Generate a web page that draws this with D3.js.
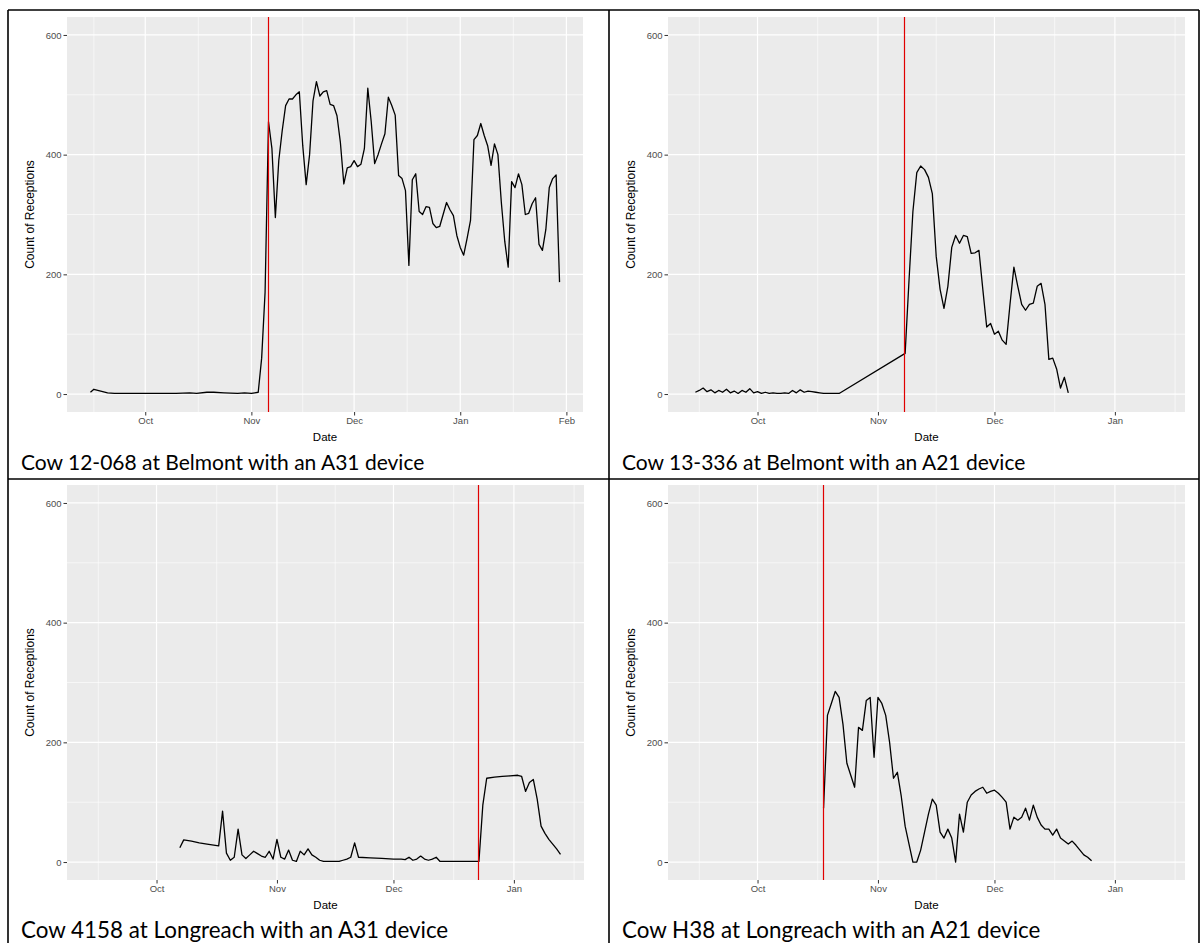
<!DOCTYPE html>
<html>
<head>
<meta charset="utf-8">
<script src="https://cdn.jsdelivr.net/npm/d3@7"></script>
<style>
  body { margin: 0; background: #fff; }
  .tick text { font-family: "Liberation Sans", Arial, sans-serif; font-size: 9.5px; fill: #4d4d4d; }
  .tick line { stroke: #333; }
</style>
</head>
<body>
<svg id="page" width="1203" height="943"></svg>
<script>
// ---- data ----
var cow12068 = [
  ["2016-09-15",3],["2016-09-16",8],["2016-09-18",5],["2016-09-20",2],["2016-09-22",1],["2016-09-26",1],
  ["2016-10-01",1],["2016-10-06",1],["2016-10-10",1],["2016-10-14",2],["2016-10-16",1],["2016-10-19",3],
  ["2016-10-21",3],["2016-10-24",2],["2016-10-28",1],["2016-10-30",2],["2016-11-01",1],["2016-11-02",2],
  ["2016-11-03",3],["2016-11-04",60],["2016-11-05",170],["2016-11-06",455],["2016-11-07",410],["2016-11-08",295],
  ["2016-11-09",390],["2016-11-10",440],["2016-11-11",482],["2016-11-12",493],["2016-11-13",493],["2016-11-14",500],
  ["2016-11-15",505],["2016-11-16",415],["2016-11-17",350],["2016-11-18",400],["2016-11-19",490],["2016-11-20",522],
  ["2016-11-21",498],["2016-11-22",505],["2016-11-23",507],["2016-11-24",484],["2016-11-25",482],["2016-11-26",465],
  ["2016-11-27",420],["2016-11-28",351],["2016-11-29",378],["2016-11-30",380],["2016-12-01",390],["2016-12-02",380],
  ["2016-12-03",384],["2016-12-04",410],["2016-12-05",511],["2016-12-06",455],["2016-12-07",385],["2016-12-08",400],
  ["2016-12-09",418],["2016-12-10",435],["2016-12-11",496],["2016-12-12",482],["2016-12-13",466],["2016-12-14",365],
  ["2016-12-15",360],["2016-12-16",340],["2016-12-17",215],["2016-12-18",358],["2016-12-19",368],["2016-12-20",305],
  ["2016-12-21",300],["2016-12-22",313],["2016-12-23",312],["2016-12-24",285],["2016-12-25",278],["2016-12-26",280],
  ["2016-12-27",300],["2016-12-28",320],["2016-12-29",308],["2016-12-30",298],["2016-12-31",265],["2017-01-01",245],
  ["2017-01-02",232],["2017-01-03",260],["2017-01-04",290],["2017-01-05",425],["2017-01-06",432],["2017-01-07",452],
  ["2017-01-08",432],["2017-01-09",415],["2017-01-10",382],["2017-01-11",418],["2017-01-12",400],["2017-01-13",320],
  ["2017-01-14",255],["2017-01-15",212],["2017-01-16",355],["2017-01-17",345],["2017-01-18",368],["2017-01-19",350],
  ["2017-01-20",300],["2017-01-21",302],["2017-01-22",318],["2017-01-23",328],["2017-01-24",250],["2017-01-25",240],
  ["2017-01-26",275],["2017-01-27",345],["2017-01-28",360],["2017-01-29",366],["2017-01-30",187]
];

var cow13336 = [
  ["2016-09-15",3],["2016-09-16",6],["2016-09-17",10],["2016-09-18",4],["2016-09-19",7],["2016-09-20",2],
  ["2016-09-21",6],["2016-09-22",3],["2016-09-23",8],["2016-09-24",2],["2016-09-25",5],["2016-09-26",1],
  ["2016-09-27",6],["2016-09-28",3],["2016-09-29",9],["2016-09-30",2],["2016-10-01",4],["2016-10-02",1],
  ["2016-10-03",3],["2016-10-04",1],["2016-10-05",2],["2016-10-06",1],["2016-10-07",1],["2016-10-08",2],
  ["2016-10-09",1],["2016-10-10",6],["2016-10-11",2],["2016-10-12",7],["2016-10-13",3],["2016-10-14",5],
  ["2016-10-15",4],["2016-10-16",3],["2016-10-17",2],["2016-10-18",1],["2016-10-20",1],["2016-10-22",1],
  ["2016-11-08",68],["2016-11-09",190],["2016-11-10",305],["2016-11-11",370],["2016-11-12",381],["2016-11-13",375],
  ["2016-11-14",362],["2016-11-15",335],["2016-11-16",230],["2016-11-17",175],["2016-11-18",143],["2016-11-19",180],
  ["2016-11-20",245],["2016-11-21",265],["2016-11-22",252],["2016-11-23",265],["2016-11-24",263],["2016-11-25",235],
  ["2016-11-26",236],["2016-11-27",240],["2016-11-28",175],["2016-11-29",112],["2016-11-30",118],["2016-12-01",100],
  ["2016-12-02",105],["2016-12-03",90],["2016-12-04",83],["2016-12-05",150],["2016-12-06",212],["2016-12-07",180],
  ["2016-12-08",150],["2016-12-09",140],["2016-12-10",150],["2016-12-11",152],["2016-12-12",180],["2016-12-13",185],
  ["2016-12-14",150],["2016-12-15",58],["2016-12-16",60],["2016-12-17",42],["2016-12-18",10],["2016-12-19",28],
  ["2016-12-20",2]
];

var cow4158 = [
  ["2016-10-07",24],["2016-10-08",37],["2016-10-10",35],["2016-10-12",32],["2016-10-14",30],["2016-10-17",27],
  ["2016-10-18",85],["2016-10-19",15],["2016-10-20",3],["2016-10-21",8],["2016-10-22",55],["2016-10-23",12],
  ["2016-10-24",6],["2016-10-25",12],["2016-10-26",18],["2016-10-27",14],["2016-10-28",10],["2016-10-29",8],
  ["2016-10-30",18],["2016-10-31",5],["2016-11-01",38],["2016-11-02",8],["2016-11-03",5],["2016-11-04",20],
  ["2016-11-05",3],["2016-11-06",1],["2016-11-07",18],["2016-11-08",12],["2016-11-09",22],["2016-11-10",12],
  ["2016-11-11",8],["2016-11-12",3],["2016-11-13",1],["2016-11-17",1],["2016-11-18",3],["2016-11-19",5],
  ["2016-11-20",8],["2016-11-21",32],["2016-11-22",8],["2016-11-25",7],["2016-11-28",6],["2016-12-01",5],
  ["2016-12-03",5],["2016-12-04",4],["2016-12-05",8],["2016-12-06",3],["2016-12-07",5],["2016-12-08",10],
  ["2016-12-09",5],["2016-12-10",3],["2016-12-11",5],["2016-12-12",8],["2016-12-13",1],["2016-12-23",1],
  ["2016-12-24",95],["2016-12-25",140],["2016-12-27",142],["2016-12-29",143],["2016-12-31",144],["2017-01-02",145],
  ["2017-01-03",143],["2017-01-04",118],["2017-01-05",133],["2017-01-06",138],["2017-01-07",105],["2017-01-08",60],
  ["2017-01-09",48],["2017-01-10",38],["2017-01-11",30],["2017-01-12",22],["2017-01-13",13]
];

var cowH38 = [
  ["2016-10-18",90],["2016-10-19",245],["2016-10-20",265],["2016-10-21",285],["2016-10-22",275],["2016-10-23",230],
  ["2016-10-24",165],["2016-10-25",145],["2016-10-26",125],["2016-10-27",225],["2016-10-28",220],["2016-10-29",270],
  ["2016-10-30",275],["2016-10-31",175],["2016-11-01",275],["2016-11-02",265],["2016-11-03",245],["2016-11-04",200],
  ["2016-11-05",140],["2016-11-06",150],["2016-11-07",110],["2016-11-08",60],["2016-11-09",30],["2016-11-10",0],
  ["2016-11-11",0],["2016-11-12",20],["2016-11-13",50],["2016-11-14",80],["2016-11-15",105],["2016-11-16",95],
  ["2016-11-17",50],["2016-11-18",40],["2016-11-19",55],["2016-11-20",40],["2016-11-21",0],["2016-11-22",80],
  ["2016-11-23",50],["2016-11-24",100],["2016-11-25",112],["2016-11-26",118],["2016-11-27",122],["2016-11-28",125],
  ["2016-11-29",115],["2016-11-30",118],["2016-12-01",120],["2016-12-02",115],["2016-12-03",108],["2016-12-04",100],
  ["2016-12-05",55],["2016-12-06",75],["2016-12-07",70],["2016-12-08",75],["2016-12-09",90],["2016-12-10",70],
  ["2016-12-11",95],["2016-12-12",75],["2016-12-13",62],["2016-12-14",55],["2016-12-15",55],["2016-12-16",45],
  ["2016-12-17",55],["2016-12-18",40],["2016-12-19",35],["2016-12-20",30],["2016-12-21",35],["2016-12-22",28],
  ["2016-12-23",20],["2016-12-24",12],["2016-12-25",8],["2016-12-26",2]
];

var redLineDates = ["2016-11-06", "2016-11-08", "2016-12-23", "2016-10-18"];
var captions = [
  "Cow 12-068 at Belmont with an A31 device",
  "Cow 13-336 at Belmont with an A21 device",
  "Cow 4158 at Longreach with an A31 device",
  "Cow H38 at Longreach with an A21 device"
];
var sharedLimits = ["2016-09-14", "2017-01-13"];
var yLimits = [0, 600];
var yTicks = [0, 200, 400, 600];
var yMinorTicks = [100, 300, 500];
var xTitle = "Date";
var yTitle = "Count of Receptions";

// ---- layout ----
var parse = d3.timeParse("%Y-%m-%d");
var plotH = 395;
var panels = [
  { data: cow12068, left: 67,  top: 17,  w: 516, limits: null,         cell: 8,   capSize: 21 },
  { data: cow13336, left: 668, top: 17,  w: 517, limits: sharedLimits, cell: 609, capSize: 21 },
  { data: cow4158,  left: 67,  top: 485, w: 517, limits: sharedLimits, cell: 8,   capSize: 22.4 },
  { data: cowH38,   left: 668, top: 485, w: 517, limits: sharedLimits, cell: 609, capSize: 22.4 }
];

var svg = d3.select("#page");

panels.forEach(function (p, i) {
  var pts = p.data.map(function (d) { return { date: parse(d[0]), n: d[1] }; });
  var lim = p.limits ? p.limits.map(parse) : d3.extent(pts, function (d) { return d.date; });
  var span = lim[1] - lim[0];
  // ggplot style 5% expansion
  var x = d3.scaleTime()
    .domain([new Date(+lim[0] - span * 0.05), new Date(+lim[1] + span * 0.05)])
    .range([p.left, p.left + p.w]);
  var ySpan = yLimits[1] - yLimits[0];
  var y = d3.scaleLinear()
    .domain([yLimits[0] - ySpan * 0.05, yLimits[1] + ySpan * 0.05])
    .range([p.top + plotH, p.top]);

  var g = svg.append("g");

  g.append("rect")
    .attr("x", p.left).attr("y", p.top)
    .attr("width", p.w).attr("height", plotH)
    .attr("fill", "#ebebeb");

  // month breaks + minor breaks in between
  var dom = x.domain();
  var months = d3.timeMonth.range(d3.timeMonth.offset(d3.timeMonth.floor(dom[0]), -1), d3.timeMonth.offset(dom[1], 2));
  var majors = months.filter(function (m) { return m >= dom[0] && m <= dom[1]; });
  var minors = [];
  for (var k = 0; k < months.length - 1; k++) {
    var mid = new Date((+months[k] + +months[k + 1]) / 2);
    if (mid >= dom[0] && mid <= dom[1]) minors.push(mid);
  }

  g.selectAll(".vminor").data(minors).enter().append("line")
    .attr("x1", function (d) { return x(d); }).attr("x2", function (d) { return x(d); })
    .attr("y1", p.top).attr("y2", p.top + plotH)
    .attr("stroke", "#fff").attr("stroke-width", 0.6);
  g.selectAll(".hminor").data(yMinorTicks).enter().append("line")
    .attr("x1", p.left).attr("x2", p.left + p.w)
    .attr("y1", function (d) { return y(d); }).attr("y2", function (d) { return y(d); })
    .attr("stroke", "#fff").attr("stroke-width", 0.6);
  g.selectAll(".vmajor").data(majors).enter().append("line")
    .attr("x1", function (d) { return x(d); }).attr("x2", function (d) { return x(d); })
    .attr("y1", p.top).attr("y2", p.top + plotH)
    .attr("stroke", "#fff").attr("stroke-width", 1.2);
  g.selectAll(".hmajor").data(yTicks).enter().append("line")
    .attr("x1", p.left).attr("x2", p.left + p.w)
    .attr("y1", function (d) { return y(d); }).attr("y2", function (d) { return y(d); })
    .attr("stroke", "#fff").attr("stroke-width", 1.2);

  var line = d3.line()
    .x(function (d) { return x(d.date); })
    .y(function (d) { return y(d.n); });

  g.append("path")
    .datum(pts)
    .attr("d", line)
    .attr("fill", "none")
    .attr("stroke", "#000")
    .attr("stroke-width", 1.3)
    .attr("stroke-linejoin", "round");

  // red marker line, snapped to the pixel grid so it stays crisp
  var rx = Math.round(x(parse(redLineDates[i]))) - 0.5;
  g.append("line")
    .attr("x1", rx).attr("x2", rx)
    .attr("y1", p.top).attr("y2", p.top + plotH)
    .attr("stroke", "#e00000").attr("stroke-width", 1.2);

  // axes
  var yAxis = d3.axisLeft(y).tickValues(yTicks).tickSize(3.5).tickPadding(2);
  var xAxis = d3.axisBottom(x).tickValues(majors).tickFormat(d3.timeFormat("%b")).tickSize(3.5).tickPadding(2);

  g.append("g").attr("transform", "translate(" + p.left + ",0)").call(yAxis)
    .call(function (a) { a.select(".domain").remove(); });
  g.append("g").attr("transform", "translate(0," + (p.top + plotH) + ")").call(xAxis)
    .call(function (a) { a.select(".domain").remove(); });

  g.append("text")
    .attr("transform", "translate(" + (p.left - 33) + "," + (p.top + plotH / 2) + ") rotate(-90)")
    .attr("text-anchor", "middle")
    .style("font-family", "'Liberation Sans', Arial, sans-serif")
    .style("font-size", "12px")
    .text(yTitle);

  g.append("text")
    .attr("x", p.left + p.w / 2)
    .attr("y", p.top + plotH + 29)
    .attr("text-anchor", "middle")
    .style("font-family", "'Liberation Sans', Arial, sans-serif")
    .style("font-size", "11.5px")
    .text(xTitle);

  g.append("text")
    .attr("x", p.cell + 13)
    .attr("y", p.top + plotH + 58)
    .style("font-family", "Lato, 'Open Sans', sans-serif")
    .style("font-size", p.capSize + "px")
    .text(captions[i]);
});

// table borders
var borders = [
  [8, 10, 1199, 10],
  [8, 479, 1199, 479],
  [8, 10, 8, 943],
  [609, 10, 609, 943],
  [1199, 10, 1199, 943]
];
svg.selectAll(".border").data(borders).enter().append("line")
  .attr("x1", function (d) { return d[0]; }).attr("y1", function (d) { return d[1]; })
  .attr("x2", function (d) { return d[2]; }).attr("y2", function (d) { return d[3]; })
  .attr("stroke", "#000").attr("stroke-width", 1.6);
</script>
</body>
</html>
